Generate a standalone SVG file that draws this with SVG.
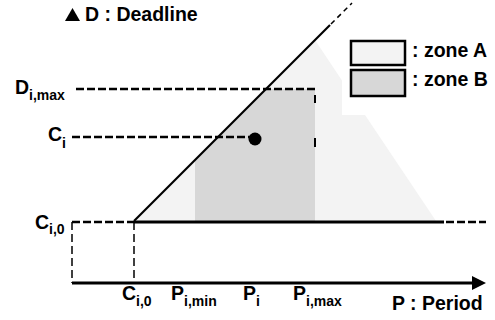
<svg xmlns="http://www.w3.org/2000/svg" width="495" height="320" viewBox="0 0 495 320">
<style>
text{font-family:"Liberation Sans",Arial,sans-serif;font-weight:bold;font-size:19.5px;fill:#000}
.sub{font-size:14px}
.dash{stroke:#000;stroke-width:2.5;stroke-dasharray:8 3;fill:none}
.thin{stroke:#000;stroke-width:1.5;stroke-dasharray:8 4;fill:none}
.solid{stroke:#000;stroke-width:3;fill:none}
</style>
<rect width="495" height="320" fill="#fff"/>
<g id="zoneA"><polygon points="134,221 315,40 342,80.5 342,115 365,115 436,221" fill="#f3f3f3"/></g>
<g id="zoneB"><polygon points="195,221 195,160 266,89 315,89 315,221" fill="#d7d7d7"/></g>
<g id="connectors">
<line class="dash" x1="76" y1="89" x2="315" y2="89"/>
<line class="dash" x1="72" y1="137" x2="250" y2="137"/>
<line class="dash" x1="72" y1="222" x2="134" y2="222"/>
<line class="solid" x1="134" y1="222" x2="444" y2="222"/>
<line class="dash" x1="446" y1="222" x2="486" y2="222"/>
<line class="thin" x1="72" y1="222" x2="72" y2="283"/>
<line class="thin" x1="134" y1="222" x2="134" y2="283"/>
<line stroke="#000" stroke-width="2" x1="315" y1="95" x2="315" y2="103"/>
<line stroke="#000" stroke-width="2" x1="315" y1="138" x2="315" y2="147"/>
<line stroke="#000" stroke-width="2.2" x1="134" y1="221" x2="330" y2="25"/>
<line stroke="#000" stroke-width="1.5" stroke-dasharray="5 4" x1="331" y1="24" x2="352" y2="3"/>
<line class="solid" x1="72" y1="283" x2="474" y2="283"/>
<polygon points="472,276 486,283 472,290" fill="#000"/>
</g>
<g id="point"><circle cx="255" cy="139" r="6.5" fill="#000"/></g>
<g id="title">
<polygon points="65,21 72.5,8 80,21" fill="#000"/>
<text x="85" y="21">D : Deadline</text>
</g>
<g id="legend">
<rect x="351" y="41" width="54" height="24" fill="#f3f3f3" stroke="#000" stroke-width="2.5"/>
<rect x="351" y="70" width="54" height="26" fill="#d7d7d7" stroke="#000" stroke-width="2.5"/>
<text x="412" y="57">: zone A</text>
<text x="412" y="86">: zone B</text>
</g>
<g id="labels">
<text x="15" y="94">D<tspan class="sub" dy="6">i,max</tspan></text>
<text x="48" y="141">C<tspan class="sub" dy="7">i</tspan></text>
<text x="35" y="229">C<tspan class="sub" dy="5">i,0</tspan></text>
<text x="122" y="300">C<tspan class="sub" dy="6">i,0</tspan></text>
<text x="171" y="300">P<tspan class="sub" dy="6">i,min</tspan></text>
<text x="243" y="300">P<tspan class="sub" dy="6">i</tspan></text>
<text x="293" y="300">P<tspan class="sub" dy="6">i,max</tspan></text>
<text x="392" y="310">P : Period</text>
</g>
</svg>
